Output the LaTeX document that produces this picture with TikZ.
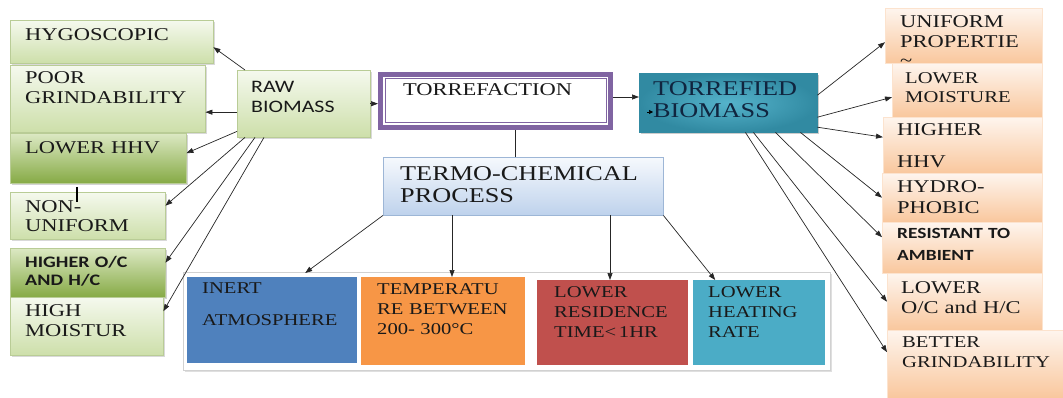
\documentclass[tikz,border=0pt]{standalone}
\usepackage{fontspec}
\setmainfont{Liberation Serif}[FakeStretch=1.25]
\newfontfamily\calibri{Carlito}[FakeStretch=1.25]
\usetikzlibrary{arrows.meta,shadows}
\uchyph=0
\definecolor{leafpale}{HTML}{F5F9EE}
\definecolor{leafmid}{HTML}{CDDFAA}
\definecolor{leafdeep}{HTML}{86AA45}
\definecolor{leafedge}{HTML}{B9CC96}
\definecolor{skytop}{HTML}{F6F9FD}
\definecolor{skybot}{HTML}{BED2EC}
\definecolor{skyedge}{HTML}{9DB6D6}
\definecolor{torrviolet}{HTML}{8064A2}
\definecolor{tealdark}{HTML}{318AA2}
\definecolor{teallight}{HTML}{55B3CB}
\definecolor{inkblue}{HTML}{10253F}
\definecolor{steel}{HTML}{4F81BD}
\definecolor{tangerine}{HTML}{F79646}
\definecolor{brick}{HTML}{C0504D}
\definecolor{aqua}{HTML}{4BACC6}
\definecolor{peach}{HTML}{F9C79D}
\definecolor{cream}{HTML}{FEF5EE}

\begin{document}
\begin{tikzpicture}[x=1pt,y=-1pt,
  box/.style={anchor=north west,inner ysep=0pt,align=left,text=black!90,
    font=\fontsize{18}{20}\selectfont},
  paleleaf/.style={box,draw=leafedge,top color=leafpale,bottom color=leafmid,
    drop shadow={shadow xshift=1.5pt,shadow yshift=-1.5pt,opacity=.3}},
  deepleaf/.style={box,draw=leafedge,top color=leafmid!70!white,
    bottom color=leafdeep,
    drop shadow={shadow xshift=1.5pt,shadow yshift=-1.5pt,opacity=.35}},
  peachbox/.style={box,draw=peach!50!white,top color=cream,bottom color=peach},
  solid/.style={box,font=\fontsize{16.5}{20}\selectfont},
  sansbold/.style={font=\calibri\bfseries\fontsize{16}{18}\selectfont},
  link/.style={-{Triangle[length=7pt,width=5pt]},line width=.7pt,black!85},
  joint/.style={line width=.7pt,black!85}
]
\useasboundingbox (0,0) rectangle (1063,398);

% Raw biomass and its drawbacks on the left.
\node[paleleaf,inner xsep=15pt,text width=173pt,text height=20pt,text depth=23pt]
  (hygro) at (10,20) {HYGOSCOPIC};
\node[paleleaf,inner xsep=15pt,text width=165pt,text height=18pt,text depth=49pt]
  (poor) at (10,65) {POOR\\GRINDABILITY};
\node[deepleaf,inner xsep=15pt,text width=146pt,text height=20pt,text depth=30pt]
  (lowhhv) at (10,133) {LOWER HHV};
\node[paleleaf,inner xsep=15pt,text width=125pt,text height=20pt,text depth=27pt,
  font=\fontsize{18}{19}\selectfont]
  (nonuni) at (10,192) {NON-\\UNIFORM};
\node[deepleaf,sansbold,inner xsep=15pt,text width=125pt,text height=19pt,
  text depth=30pt]
  (higheroc) at (10,248) {HIGHER O/C\\AND H/C};
\node[paleleaf,inner xsep=15pt,text width=123pt,text height=19pt,text depth=39pt]
  (highmoist) at (10,297) {HIGH\\MOISTUR};
\node[paleleaf,font=\calibri\fontsize{17.5}{20}\selectfont,inner xsep=14pt,
  text width=105pt,text height=22pt,text depth=45pt]
  (raw) at (237,70) {RAW\\BIOMASS};
\draw[line width=1.6pt] ([shift={(67,-5)}]nonuni.north west) -- ++(0,15);

% The process in the middle.
\node[box,draw=torrviolet,line width=5pt,fill=white,inner xsep=22.5pt,
  text width=185pt,text height=21.5pt,text depth=31.5pt]
  (torref) at (378,72) {TORREFACTION};
\draw[torrviolet,line width=1pt] ([shift={(7,7)}]torref.north west)
  rectangle ([shift={(-7,-7)}]torref.south east);
\node[box,draw=skyedge,top color=skytop,bottom color=skybot,
  font=\fontsize{21}{22}\selectfont,inner xsep=17pt,text width=246pt,
  text height=23pt,text depth=35pt]
  (termo) at (383,157) {TERMO-CHEMICAL\\PROCESS};
\node[box,draw=tealdark,inner color=teallight,outer color=tealdark,text=inkblue,
  font=\fontsize{21}{22}\selectfont,inner xsep=14pt,text width=150pt,
  text height=22pt,text depth=37pt,
  drop shadow={shadow xshift=1.5pt,shadow yshift=-2pt,opacity=.4}]
  (torrefied) at (639,73) {TORREFIED\\BIOMASS};
\draw[-{Triangle[length=4pt,width=4pt]},line width=.6pt,black]
  ([shift={(8,39)}]torrefied.north west) -- ++(6,0);

% Process conditions along the bottom.
\node[box,draw=black!18,line width=1pt,fill=white,inner sep=0pt,
  minimum width=647pt,minimum height=98pt,
  drop shadow={shadow xshift=1pt,shadow yshift=-1.5pt,opacity=.25}]
  (panel) at (183,272) {};
\node[solid,fill=steel,inner xsep=15pt,text width=140pt,text height=16pt,
  text depth=70pt]
  (inert) at (187,277) {INERT\\[12pt]ATMOSPHERE};
\node[solid,fill=tangerine,inner xsep=16pt,text width=132pt,text height=17pt,
  text depth=71pt]
  (temp) at (361,277) {TEMPERATU\\RE BETWEEN\\200- 300°C};
\node[solid,fill=brick,inner xsep=17pt,text width=117pt,text height=17pt,
  text depth=68pt]
  (resid) at (537,280) {LOWER\\RESIDENCE\\TIME<\,1HR};
\node[solid,fill=aqua,inner xsep=15pt,text width=102pt,text height=17pt,
  text depth=68pt]
  (heating) at (693,280) {LOWER\\HEATING\\RATE};

% Properties of the torrefied biomass on the right.
\node[peachbox,inner xsep=15pt,text width=127pt,text height=19pt,text depth=36pt]
  (uniform) at (885,8) {UNIFORM\\PROPERTIE\\[-1pt]\textasciitilde};
\node[peachbox,font=\fontsize{16.5}{19}\selectfont,inner xsep=13pt,
  text width=124pt,text height=20pt,text depth=34pt]
  (lowmoist) at (892,63) {LOWER\\MOISTURE};
\node[peachbox,inner xsep=14pt,text width=131pt,text height=18pt,text depth=38pt]
  (higherhhv) at (883,117) {HIGHER\\[12pt]HHV};
\node[peachbox,font=\fontsize{18}{21}\selectfont,inner xsep=15pt,
  text width=130pt,text height=19pt,text depth=30pt]
  (hydro) at (882,173) {HYDRO-\\PHOBIC};
\node[peachbox,sansbold,font=\calibri\bfseries\fontsize{15.5}{22}\selectfont,
  inner xsep=15pt,text width=130pt,text height=16pt,text depth=35pt]
  (resist) at (882,222) {RESISTANT TO\\AMBIENT};
\node[peachbox,inner xsep=14pt,text width=127pt,text height=20pt,text depth=37pt]
  (lowoc) at (887,273) {LOWER\\O/C and H/C};
\node[peachbox,font=\fontsize{16.5}{20}\selectfont,inner xsep=15pt,
  text width=146pt,text height=17pt,text depth=51pt]
  (better) at (887,330) {BETTER\\GRINDABILITY};

% Arrows out of the raw biomass.
\draw[link] ([xshift=8pt]raw.north west) -- ([yshift=-5.5pt]hygro.east);
\draw[link] ([yshift=-8.5pt]raw.west) -- ([yshift=-8.5pt]raw.west -| poor.east);
\draw[link] ([yshift=6pt]raw.south west) -- ([yshift=5pt]lowhhv.east);
\draw[link] ([xshift=8pt]raw.south west) -- ([yshift=10pt]nonuni.east);
\draw[link] ([xshift=18pt]raw.south west) -- ([yshift=10pt]higheroc.east);
\draw[link] ([xshift=27pt]raw.south west) -- ([yshift=15pt]highmoist.east);

% Main chain and the process conditions.
\draw[link] (raw.east) -- (raw.east -| torref.west);
\draw[link] ([yshift=4pt]torref.east) -- ([yshift=4pt]torref.east -| torrefied.west);
\draw[joint] ([xshift=20pt]torref.south) -- ([xshift=20pt]torref.south |- termo.north);
\draw[link] (termo.south west) -- ([shift={(33pt,4pt)}]inert.north);
\draw[link] ([xshift=69pt]termo.south west) -- ([xshift=69pt]termo.south west |- temp.north);
\draw[link] ([xshift=227pt]termo.south west) -- ([xshift=227pt]termo.south west |- resid.north);
\draw[link] (termo.south east) -- ([xshift=-44pt]heating.north);

% Arrows out of the torrefied biomass.
\draw[link] ([yshift=7.5pt]torrefied.east) -- ([yshift=-6.5pt]uniform.west);
\draw[link] ([yshift=-14.5pt]torrefied.east) -- ([yshift=-7pt]lowmoist.west);
\draw[link] ([yshift=-24.5pt]torrefied.east) -- ([yshift=8pt]higherhhv.west);
\draw[link] ([xshift=-17pt]torrefied.south east) -- (hydro.west);
\draw[link] ([xshift=-42pt]torrefied.south east) -- ([yshift=10.5pt]resist.west);
\draw[link] ([xshift=-64pt]torrefied.south east) -- (lowoc.west);
\draw[link] ([xshift=-72pt]torrefied.south east) -- ([yshift=12pt]better.west);
\end{tikzpicture}
\end{document}
